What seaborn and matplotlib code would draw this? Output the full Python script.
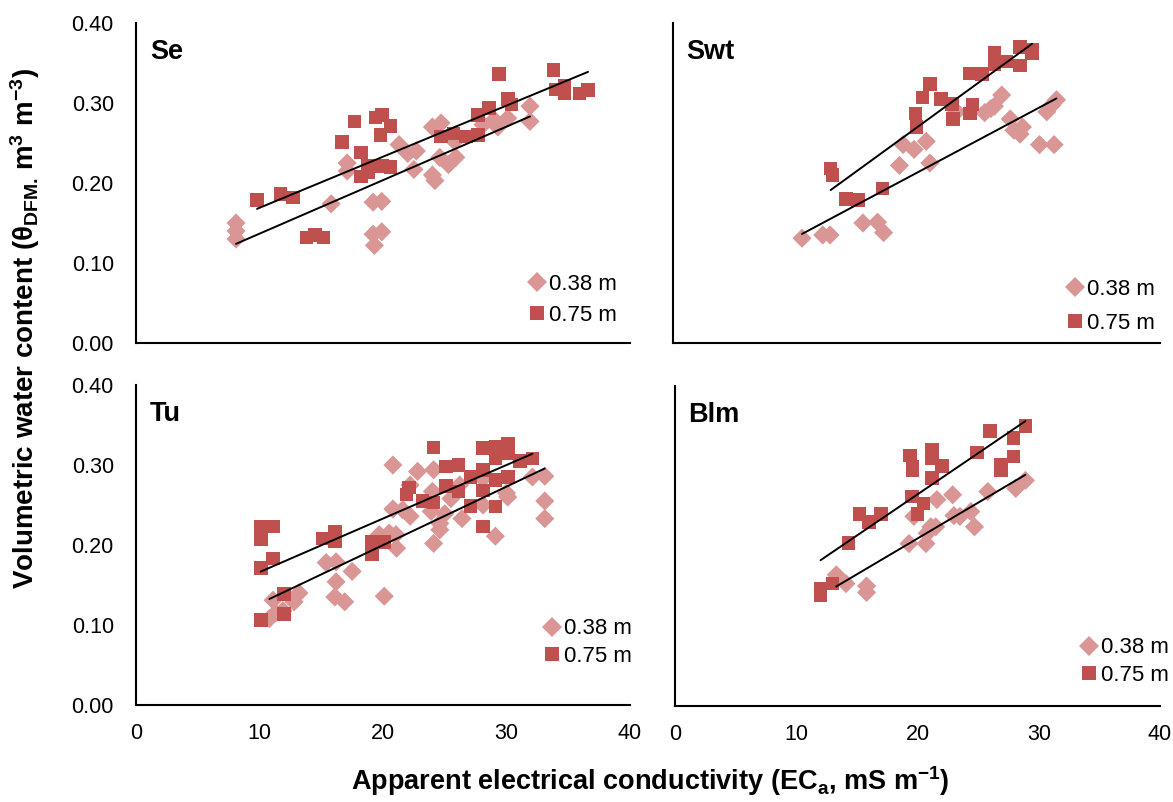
import numpy as np
import pandas as pd
import matplotlib
matplotlib.use("Agg")
import matplotlib.pyplot as plt
import seaborn as sns

# --- data (ECa in mS/m, theta in m3/m3) ---
se_x_038 = [8.1, 8.1, 8.1, 15.8, 17.1, 17.1, 19.2, 19.9, 19.2, 19.9, 19.3, 21.3, 22.0, 22.7, 22.5,
            24.0, 24.7, 24.0, 24.2, 24.6, 25.3, 25.9, 25.8, 28.1, 29.0, 29.3, 30.1, 31.9, 31.9]
se_y_038 = [0.150, 0.140, 0.130, 0.174, 0.225, 0.215, 0.176, 0.177, 0.136, 0.139, 0.122, 0.248, 0.237, 0.240, 0.217,
            0.270, 0.275, 0.210, 0.203, 0.232, 0.223, 0.232, 0.252, 0.273, 0.279, 0.270, 0.281, 0.296, 0.277]
se_x_075 = [9.8, 11.7, 12.7, 13.8, 14.5, 15.2, 16.7, 17.7, 18.2, 18.2, 18.8, 18.8, 19.4, 19.9, 19.8, 20.6, 19.9,
            20.6, 24.7, 25.7, 26.7, 27.7, 27.7, 28.6, 29.4, 30.1, 30.4, 33.8, 34.0, 34.7, 34.7, 35.9, 36.6]
se_y_075 = [0.179, 0.186, 0.182, 0.132, 0.135, 0.132, 0.251, 0.277, 0.238, 0.208, 0.221, 0.213, 0.282, 0.285, 0.260,
            0.271, 0.221, 0.220, 0.258, 0.262, 0.258, 0.260, 0.285, 0.294, 0.336, 0.305, 0.298, 0.341, 0.317, 0.321,
            0.312, 0.312, 0.316]

swt_x_038 = [10.6, 12.3, 12.9, 15.6, 16.8, 17.3, 18.6, 18.9, 19.8, 20.8, 21.1, 23.3, 25.6, 26.1, 26.4, 27.0,
             27.7, 28.0, 28.5, 28.7, 30.1, 31.3, 30.7, 31.1, 31.5]
swt_y_038 = [0.131, 0.135, 0.135, 0.150, 0.151, 0.138, 0.222, 0.248, 0.242, 0.252, 0.225, 0.289, 0.288, 0.293,
             0.296, 0.310, 0.280, 0.266, 0.261, 0.270, 0.248, 0.248, 0.289, 0.297, 0.304]
swt_x_075 = [12.95, 13.1, 14.2, 15.2, 17.2, 19.9, 20.0, 20.5, 21.1, 22.0, 22.9, 23.0, 24.4, 24.6, 24.4, 25.4,
             26.4, 26.4, 27.4, 28.5, 28.5, 29.5, 29.5]
swt_y_075 = [0.218, 0.210, 0.180, 0.179, 0.193, 0.287, 0.270, 0.307, 0.324, 0.305, 0.299, 0.280, 0.337, 0.298,
             0.287, 0.336, 0.363, 0.349, 0.352, 0.370, 0.347, 0.367, 0.362]

tu_x_038 = [11.1, 10.8, 11.3, 11.9, 12.8, 13.2, 15.4, 16.2, 16.2, 16.1, 16.9, 17.5, 20.1, 19.7, 20.5, 21.05,
            21.1, 20.8, 20.8, 21.6, 22.2, 22.2, 22.8, 24.1, 24.0, 23.9, 24.6, 24.6, 24.1, 25.0, 25.5, 26.2,
            26.4, 28.1, 28.1, 29.1, 30.1, 30.0, 32.1, 33.1, 33.1, 33.1]
tu_y_038 = [0.131, 0.108, 0.115, 0.118, 0.129, 0.140, 0.178, 0.179, 0.154, 0.135, 0.129, 0.167, 0.136, 0.213,
            0.215, 0.213, 0.196, 0.300, 0.245, 0.244, 0.236, 0.275, 0.292, 0.294, 0.267, 0.242, 0.227, 0.219,
            0.202, 0.239, 0.258, 0.275, 0.233, 0.250, 0.283, 0.211, 0.260, 0.265, 0.285, 0.286, 0.255, 0.233]
tu_x_075 = [10.1, 10.1, 11.1, 11.1, 10.1, 10.1, 12.0, 12.0, 15.1, 16.1, 16.1, 19.1, 19.1, 20.1, 21.9, 22.1,
            23.2, 24.1, 24.1, 25.1, 25.1, 26.1, 26.1, 27.1, 27.1, 28.1, 28.1, 28.1, 28.1, 29.1, 29.1, 29.1,
            29.1, 30.1, 30.1, 30.1, 31.1, 32.1]
tu_y_075 = [0.223, 0.207, 0.223, 0.183, 0.171, 0.106, 0.139, 0.114, 0.208, 0.216, 0.205, 0.204, 0.188, 0.204,
            0.263, 0.272, 0.255, 0.322, 0.253, 0.298, 0.274, 0.300, 0.267, 0.285, 0.249, 0.321, 0.294, 0.268,
            0.223, 0.323, 0.308, 0.281, 0.248, 0.327, 0.315, 0.285, 0.305, 0.308]

blm_x_038 = [13.3, 14.1, 15.8, 15.8, 19.3, 20.7, 19.7, 20.8, 21.1, 21.5, 21.6, 22.9, 23.0, 23.5, 24.4, 24.7,
             25.8, 28.1, 28.9]
blm_y_038 = [0.164, 0.153, 0.150, 0.142, 0.203, 0.203, 0.237, 0.216, 0.224, 0.224, 0.258, 0.264, 0.238, 0.237,
             0.243, 0.224, 0.268, 0.272, 0.282]
blm_x_075 = [12.0, 12.0, 13.0, 14.3, 15.2, 16.0, 17.0, 19.4, 19.6, 19.6, 19.55, 20.5, 20.0, 21.2, 21.2, 22.0,
             21.2, 24.9, 26.0, 26.9, 26.9, 27.9, 27.9, 28.9]
blm_y_075 = [0.147, 0.139, 0.153, 0.204, 0.240, 0.230, 0.240, 0.313, 0.299, 0.295, 0.262, 0.253, 0.240, 0.320,
             0.310, 0.300, 0.285, 0.317, 0.344, 0.301, 0.295, 0.335, 0.312, 0.350]

sites = ["Se", "Swt", "Tu", "Blm"]
depths = ["0.38 m", "0.75 m"]
x_ticks = [0, 10, 20, 30, 40]
y_ticks = [0.0, 0.1, 0.2, 0.3, 0.4]

site_data = {
    "Se": [(se_x_038, se_y_038), (se_x_075, se_y_075)],
    "Swt": [(swt_x_038, swt_y_038), (swt_x_075, swt_y_075)],
    "Tu": [(tu_x_038, tu_y_038), (tu_x_075, tu_y_075)],
    "Blm": [(blm_x_038, blm_y_038), (blm_x_075, blm_y_075)],
}

rows = []
for site, pairs in site_data.items():
    for depth, (xs, ys) in zip(depths, pairs):
        for xv, yv in zip(xs, ys):
            rows.append((site, depth, xv, yv))
df = pd.DataFrame(rows, columns=["site", "depth", "eca", "theta"])

sns.set_style("white")
plt.rcParams["font.family"] = ["Liberation Sans", "DejaVu Sans"]
plt.rcParams["mathtext.fontset"] = "custom"
plt.rcParams["mathtext.rm"] = "Liberation Sans"
plt.rcParams["mathtext.bf"] = "Liberation Sans:bold"
plt.rcParams["mathtext.it"] = "Liberation Sans:italic"
for key in ["text.color", "axes.labelcolor", "xtick.color", "ytick.color"]:
    plt.rcParams[key] = "black"

palette = {"0.38 m": "#D99694", "0.75 m": "#C0504D"}
markers = {"0.38 m": "D", "0.75 m": "s"}

fig = plt.figure(figsize=(11.73, 8.02), dpi=100)
W, H = 1173, 802
# axes boxes in pixels: left, top, right, bottom
boxes = {
    "Se": (136, 23, 630, 343),
    "Swt": (673, 23, 1160, 343),
    "Tu": (136, 385, 630, 705),
    "Blm": (675, 386, 1160, 706),
}
# legend anchor (text right, bottom) in pixels and row spacing
leg_pos = {
    "Se": (617, 326, 0.45),
    "Swt": (1155, 334, 0.6),
    "Tu": (632, 667, 0.3),
    "Blm": (1169, 686, 0.3),
}

for i, site in enumerate(sites):
    l, t, r, b = boxes[site]
    ax = fig.add_axes([l / W, 1 - b / H, (r - l) / W, (b - t) / H])
    sub = df[df.site == site]
    sns.scatterplot(data=sub, x="eca", y="theta", hue="depth", style="depth",
                    palette=palette, markers=markers, s=95, linewidth=0,
                    hue_order=depths, style_order=depths, ax=ax, zorder=2)
    for depth in depths:
        sns.regplot(data=sub[sub.depth == depth], x="eca", y="theta", scatter=False,
                    ci=None, truncate=True, color="black", line_kws={"lw": 1.4, "zorder": 3}, ax=ax)
    ax.set_xlim(0, 40)
    ax.set_ylim(0, 0.4)
    ax.set_xticks(x_ticks)
    ax.set_yticks(y_ticks)
    ax.set_xlabel("")
    ax.set_ylabel("")
    for side in ["top", "right"]:
        ax.spines[side].set_visible(False)
    for side in ["left", "bottom"]:
        ax.spines[side].set_color("black")
        ax.spines[side].set_linewidth(1.5)
    ax.tick_params(length=0, labelsize=15.5, pad=13)
    ax.tick_params(axis="y", pad=16)
    if i % 2 == 0:
        ax.set_yticklabels([f"{v:.2f}" for v in y_ticks])
    else:
        ax.set_yticklabels([])
    if i < 2:
        ax.set_xticklabels([])
    else:
        ax.set_xticklabels([str(v) for v in x_ticks])
    ax.text(0.028, 0.91, site, transform=ax.transAxes, fontsize=19.5, fontweight="bold",
            va="center", ha="left")
    lx, ly, ls = leg_pos[site]
    ax.legend(loc="lower right", bbox_to_anchor=((lx - l) / (r - l), (b - ly) / (b - t)),
              frameon=False, fontsize=16, handlelength=0.6, handletextpad=0.25,
              labelspacing=ls, borderaxespad=0, borderpad=0)

fig.text(0.021, 0.59,
         r"Volumetric water content ($\mathbf{\theta_{DFM.}}\,$m$^\mathbf{3}$ m$^\mathbf{-3}$)",
         rotation=90, ha="center", va="center", fontsize=20, fontweight="bold")
fig.text(0.554, 0.026,
         r"Apparent electrical conductivity (EC$_\mathbf{a}$, mS m$^\mathbf{-1}$)",
         ha="center", va="center", fontsize=19.5, fontweight="bold")

fig.savefig("out.png", dpi=100)
